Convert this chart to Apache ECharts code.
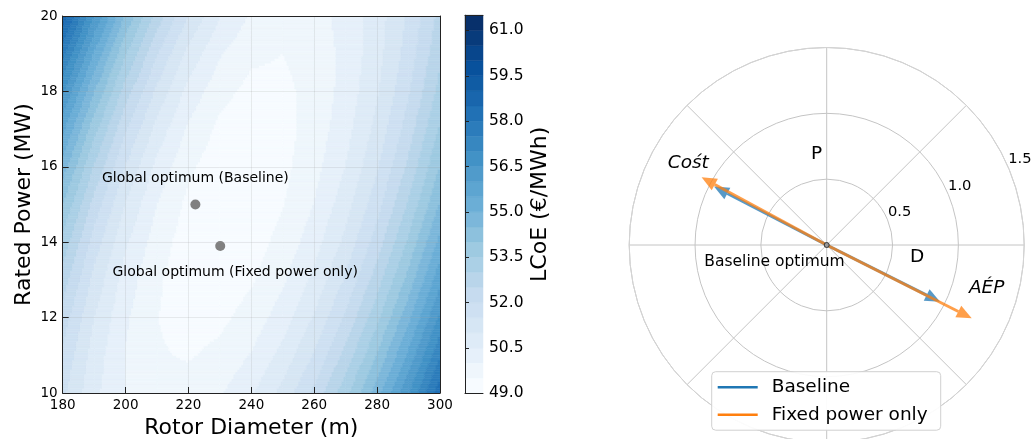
<!DOCTYPE html>
<html><head><meta charset="utf-8">
<script src="https://cdn.jsdelivr.net/npm/echarts@6/dist/echarts.min.js"></script>
<style>html,body{margin:0;padding:0;background:#fff;}#c{width:1033px;height:439px;}</style>
</head><body><div id="c"></div>
<script>
// ---------- data ----------
const diameters = [180,190,200,210,220,230,240,250,260,270,280,290,300];
const powers = [10,11,12,13,14,15,16,17,18,19,20];
const lcoeP10 = [51.64,50.63,49.98,49.68,49.69,49.94,50.43,51.16,52.12,53.33,54.77,56.45,58.37];
const lcoeP11 = [51.92,50.77,49.98,49.55,49.46,49.62,50.03,50.67,51.55,52.67,54.02,55.62,57.45];
const lcoeP12 = [52.30,51.01,50.08,49.51,49.30,49.38,49.70,50.25,51.05,52.08,53.35,54.86,56.61];
const lcoeP13 = [52.77,51.35,50.28,49.57,49.23,49.21,49.44,49.92,50.63,51.57,52.76,54.19,55.85];
const lcoeP14 = [53.34,51.78,50.58,49.74,49.25,49.12,49.27,49.66,50.28,51.14,52.24,53.58,55.16];
const lcoeP15 = [54.02,52.32,50.98,50.00,49.38,49.11,49.17,49.47,50.01,50.79,51.80,53.06,54.55];
const lcoeP16 = [54.79,52.95,51.48,50.36,49.60,49.20,49.15,49.36,49.82,50.51,51.44,52.61,54.02];
const lcoeP17 = [55.66,53.68,52.07,50.82,49.92,49.38,49.20,49.33,49.70,50.31,51.15,52.24,53.56];
const lcoeP18 = [56.63,54.52,52.77,51.38,50.34,49.67,49.35,49.38,49.66,50.18,50.94,51.94,53.18];
const lcoeP19 = [57.69,55.45,53.56,52.03,50.86,50.05,49.60,49.50,49.70,50.14,50.81,51.72,52.88];
const lcoeP20 = [58.86,56.48,54.45,52.79,51.48,50.53,49.94,49.71,49.81,50.17,50.76,51.58,52.65];
const lcoe = [lcoeP10,lcoeP11,lcoeP12,lcoeP13,lcoeP14,lcoeP15,lcoeP16,lcoeP17,lcoeP18,lcoeP19,lcoeP20];
const levels = [49.0,49.5,50.0,50.5,51.0,51.5,52.0,52.5,53.0,53.5,54.0,54.5,55.0,55.5,56.0,56.5,57.0,57.5,58.0,58.5,59.0,59.5,60.0,60.5,61.0,61.5];
const xTicks = [180,200,220,240,260,280,300];
const yTicks = [10,12,14,16,18,20];
const cbTicks = [49.0,50.5,52.0,53.5,55.0,56.5,58.0,59.5,61.0];
const optimaNames = ['Global optimum (Baseline)','Global optimum (Fixed power only)'];
const optimaD = [222.2, 230.1];
const optimaP = [15.0, 13.9];
// polar (sensitivity) panel
const radialTicks = [0.5, 1.0, 1.5];
const baselineR = [0.964, 0.963];
const baselineAngle = [152.6, 333.4];
const fixedR = [1.08, 1.234];
const fixedAngle = [151.6, 333.2];
const originPoint = [0, 0];
const polarTexts = ['Cośt','AÉP','P','D','Baseline optimum'];
const polarTextR = [1.2205, 1.259, 0.695, 0.692, 0.416];
const polarTextAngle = [149.45, 344.86, 96.3, 352.6, 197.7];
const seriesNames = ['Baseline','Fixed power only'];

// ---------- styling helpers ----------
const FONT = 'DejaVu Sans';
const bluesAnchors = ['#f7fbff','#deebf7','#c6dbef','#9ecae1','#6baed6','#4292c6','#2171b5','#08519c','#08306b'];
function hex2rgb(h){return [parseInt(h.slice(1,3),16),parseInt(h.slice(3,5),16),parseInt(h.slice(5,7),16)];}
function blues(t){
  t = Math.max(0, Math.min(1, t));
  const s = t*(bluesAnchors.length-1); const k = Math.min(Math.floor(s), bluesAnchors.length-2); const f = s-k;
  const a = hex2rgb(bluesAnchors[k]), b = hex2rgb(bluesAnchors[k+1]);
  return 'rgb(' + a.map((v,i)=>Math.round(v+(b[i]-v)*f)).join(',') + ')';
}
const mids = levels.slice(0,-1).map((l,k)=>(l+levels[k+1])/2);
const bandColors = mids.map(m=>blues((m-mids[0])/(mids[mids.length-1]-mids[0])));
function bandColor(z){
  let k = 0;
  while (k < levels.length-2 && z >= levels[k+1]) k++;
  return bandColors[k];
}

// ---------- contour field (custom series) ----------
const cells = [];
for (let j=0;j<powers.length-1;j++) for (let i=0;i<diameters.length-1;i++) cells.push([diameters[i], powers[j], i, j]);
const SUB = 16;
function fieldItem(params, api){
  const i = api.value(2), j = api.value(3);
  const d0 = diameters[i], d1 = diameters[i+1], p0 = powers[j], p1 = powers[j+1];
  const z00 = lcoe[j][i], z10 = lcoe[j][i+1], z01 = lcoe[j+1][i], z11 = lcoe[j+1][i+1];
  const children = [];
  for (let b=0;b<SUB;b++){
    const fy = (b+0.5)/SUB;
    const pa = p0+(p1-p0)*b/SUB, pb = p0+(p1-p0)*(b+1)/SUB;
    let runStart = 0, runColor = null;
    for (let a=0;a<=SUB;a++){
      let col = null;
      if (a<SUB){
        const fx = (a+0.5)/SUB;
        const z = z00*(1-fx)*(1-fy)+z10*fx*(1-fy)+z01*(1-fx)*fy+z11*fx*fy;
        col = bandColor(z);
      }
      if (col !== runColor){
        if (runColor !== null){
          const da = d0+(d1-d0)*runStart/SUB, db = d0+(d1-d0)*a/SUB;
          const A = api.coord([da, pb]), B = api.coord([db, pa]);
          children.push({type:'rect', shape:{x:A[0], y:A[1], width:B[0]-A[0], height:B[1]-A[1]},
            style:{fill:runColor, stroke:runColor, lineWidth:0.6}});
        }
        runStart = a; runColor = col;
      }
    }
  }
  return {type:'group', children};
}
function colorbarItem(params, api){
  const k = api.value(2);
  const A = api.coord([0, levels[k]]), B = api.coord([1, levels[k+1]]);
  return {type:'rect', shape:{x:A[0], y:B[1], width:B[0]-A[0], height:A[1]-B[1]},
    style:{fill:bandColors[k], stroke:bandColors[k], lineWidth:0.5}};
}
function arrowItem(color){
  return function(params, api){
    const tip = api.coord([api.value(0), api.value(1)]);
    const o = api.coord([0, api.value(1)]);
    const dx = tip[0]-o[0], dy = tip[1]-o[1], L = Math.hypot(dx,dy), ux = dx/L, uy = dy/L;
    const hl = 15, hw = 6.5;
    const bx = tip[0]-ux*hl, by = tip[1]-uy*hl;
    return {type:'group', children:[
      {type:'line', shape:{x1:o[0], y1:o[1], x2:bx, y2:by}, style:{stroke:color, lineWidth:3}},
      {type:'polygon', shape:{points:[[tip[0],tip[1]],[bx-uy*hw, by+ux*hw],[bx+uy*hw, by-ux*hw]]}, style:{fill:color}}
    ]};
  };
}
function radialLabelItem(params, api){
  const t = api.value(0);
  const p = api.coord([t, api.value(1)]), o = api.coord([0, api.value(1)]);
  const dx = p[0]-o[0], dy = p[1]-o[1], L = Math.hypot(dx,dy);
  return {type:'text', x:p[0]+dx/L*14, y:p[1]+dy/L*14,
    style:{text:t.toFixed(1), fontFamily:FONT, fontSize:14.7, fill:'#000', align:'center', verticalAlign:'middle'}};
}
function polarTextItem(params, api){
  const k = api.value(2);
  const p = api.coord([api.value(0), api.value(1)]);
  const italic = k < 2;
  const size = k < 4 ? 18.5 : 15.5;
  return {type:'text', x:p[0], y:p[1],
    style:{text:polarTexts[k], fontFamily:FONT, fontStyle: italic ? 'italic' : 'normal', fontSize:size, fill:'#000', align:'center', verticalAlign:'middle'}};
}

const axisLineDark = {show:true, lineStyle:{color:'#222', width:1}};
const noTick = {show:false}, noLabel = {show:false};
const option = {
  animation:false,
  textStyle:{fontFamily:FONT},
  grid:[
    {left:62.7, top:16, width:377.3, height:377, outerBoundsMode:'none', containLabel:false},
    {left:465, top:15.3, width:18, height:378, outerBoundsMode:'none', containLabel:false}
  ],
  xAxis:[
    {gridIndex:0, type:'value', min:180, max:300, interval:20, position:'bottom', z:10,
      name:'Rotor Diameter (m)', nameLocation:'middle', nameGap:23, nameTextStyle:{fontSize:22, color:'#000', fontFamily:FONT},
      axisLine:axisLineDark, axisTick:{show:true, inside:true, length:6, lineStyle:{color:'#222'}},
      axisLabel:{fontSize:13.5, color:'#000', margin:5, fontFamily:FONT, customValues:xTicks},
      splitLine:{show:true, lineStyle:{color:'rgba(150,150,150,0.18)', width:1}}},
    {gridIndex:0, type:'value', min:180, max:300, position:'top', z:10, axisLine:axisLineDark, axisTick:noTick, axisLabel:noLabel, splitLine:{show:false}},
    {gridIndex:1, type:'value', min:0, max:1, position:'bottom', z:10, axisLine:axisLineDark, axisTick:noTick, axisLabel:noLabel, splitLine:{show:false}},
    {gridIndex:1, type:'value', min:0, max:1, position:'top', z:10, axisLine:axisLineDark, axisTick:noTick, axisLabel:noLabel, splitLine:{show:false}}
  ],
  yAxis:[
    {gridIndex:0, type:'value', min:10, max:20, interval:2, position:'left', z:10,
      name:'Rated Power (MW)', nameLocation:'middle', nameGap:27, nameTextStyle:{fontSize:22, color:'#000', fontFamily:FONT},
      axisLine:axisLineDark, axisTick:{show:true, inside:true, length:6, lineStyle:{color:'#222'}},
      axisLabel:{fontSize:13.5, color:'#000', margin:5, fontFamily:FONT, customValues:yTicks},
      splitLine:{show:true, lineStyle:{color:'rgba(150,150,150,0.18)', width:1}}},
    {gridIndex:0, type:'value', min:10, max:20, position:'right', z:10, axisLine:axisLineDark, axisTick:noTick, axisLabel:noLabel, splitLine:{show:false}},
    {gridIndex:1, type:'value', min:49, max:61.5, position:'left', z:10, axisLine:axisLineDark, axisTick:noTick, axisLabel:noLabel, splitLine:{show:false}},
    {gridIndex:1, type:'value', min:49, max:61.5, position:'right', z:10,
      name:'LCoE (€/MWh)', nameLocation:'middle', nameGap:46, nameTextStyle:{fontSize:22, color:'#000', fontFamily:FONT},
      axisLine:axisLineDark, axisTick:{show:true, inside:false, length:4, customValues:cbTicks, lineStyle:{color:'#222'}},
      axisLabel:{fontSize:15.5, color:'#000', margin:6, fontFamily:FONT, customValues:cbTicks, formatter:v=>Number(v).toFixed(1)},
      splitLine:{show:false}}
  ],
  polar:{center:[826.7, 245], radius:197.5},
  angleAxis:{type:'value', min:0, max:360, interval:45, startAngle:0, clockwise:false,
    axisLine:{show:true, lineStyle:{color:'#d4d4d4', width:1}}, axisTick:noTick, axisLabel:noLabel,
    splitLine:{show:true, lineStyle:{color:'#c4c4c4', width:1}}},
  radiusAxis:{type:'value', min:0, max:1.5, interval:0.5, axisLine:{show:false}, axisTick:noTick, axisLabel:noLabel,
    splitLine:{show:true, lineStyle:{color:'#c4c4c4', width:1}}},
  legend:{
    left:711.7, top:371.7, orient:'vertical', icon:'rect', itemWidth:40, itemHeight:2.5, itemGap:8.5,
    padding:[6,13,6,6], backgroundColor:'rgba(255,255,255,0.92)', borderColor:'#d0d0d0', borderWidth:1, borderRadius:4,
    textStyle:{fontSize:18.5, color:'#000', fontFamily:FONT, padding:[0,0,0,9]},
    data:[{name:seriesNames[0], itemStyle:{color:'#1f77b4'}}, {name:seriesNames[1], itemStyle:{color:'#ff7f0e'}}], z:20
  },
  series:[
    {type:'custom', xAxisIndex:0, yAxisIndex:0, data:cells, encode:{x:0, y:1}, renderItem:fieldItem, clip:true, silent:true, z:1},
    {type:'custom', xAxisIndex:2, yAxisIndex:3, data:levels.slice(0,-1).map((l,k)=>[0,l,k]), encode:{x:0, y:1}, renderItem:colorbarItem, silent:true, z:1},
    {type:'scatter', xAxisIndex:0, yAxisIndex:0, symbolSize:10, itemStyle:{color:'#808080', opacity:1}, z:5,
      data:optimaNames.map((n,k)=>({name:n, value:[optimaD[k], optimaP[k]],
        label:{show:true, formatter:'{b}', position:'inside', offset: k===0 ? [0,-26] : [15,26], fontSize:14, color:'#000', opacity:1, fontFamily:FONT}}))},
    {type:'custom', name:seriesNames[0], coordinateSystem:'polar', itemStyle:{color:'#1f77b4'},
      data:baselineR.map((r,k)=>[r, baselineAngle[k]]), encode:{radius:0, angle:1}, renderItem:arrowItem('rgba(31,119,180,0.75)'), z:4},
    {type:'custom', name:seriesNames[1], coordinateSystem:'polar', itemStyle:{color:'#ff7f0e'},
      data:fixedR.map((r,k)=>[r, fixedAngle[k]]), encode:{radius:0, angle:1}, renderItem:arrowItem('rgba(255,127,14,0.75)'), z:5},
    {type:'custom', coordinateSystem:'polar', data:radialTicks.map(t=>[t, 24]), encode:{radius:0, angle:1}, renderItem:radialLabelItem, silent:true, z:3},
    {type:'custom', coordinateSystem:'polar', data:polarTexts.map((t,k)=>[polarTextR[k], polarTextAngle[k], k]), encode:{radius:0, angle:1}, renderItem:polarTextItem, silent:true, z:6},
    {type:'scatter', coordinateSystem:'polar', data:[originPoint], symbolSize:5, itemStyle:{color:'#999', borderColor:'#333', borderWidth:1, opacity:1}, z:7}
  ]
};
const chart = echarts.init(document.getElementById('c'));
chart.setOption(option);
</script>
</body></html>
